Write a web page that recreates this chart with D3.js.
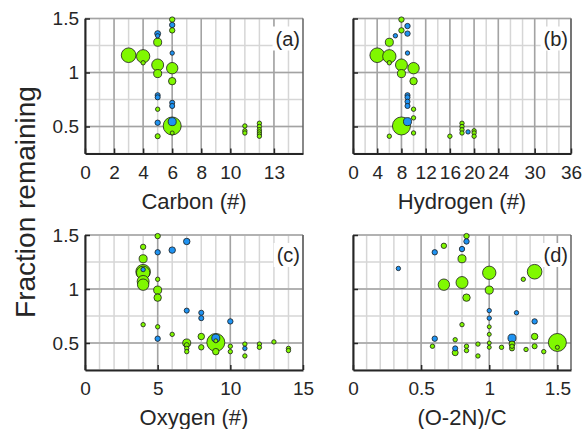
<!DOCTYPE html>
<html>
<head>
<meta charset="utf-8">
<script src="https://cdnjs.cloudflare.com/ajax/libs/d3/7.8.5/d3.min.js"></script>
<style>
  body { margin: 0; background: #fff; }
  text { font-family: "Liberation Sans", Arial, sans-serif; fill: #262626; }
</style>
</head>
<body>
<script>
// each point: [x value, fraction remaining, abundance, class]
const carbonPts = [
  [6, 1.49, 9, 'CHO'], [6, 1.44, 9, 'CHON'], [6, 1.39, 9, 'CHO'], [6, 1.18, 6, 'CHON'],
  [6, 1.04, 40, 'CHO'], [6, 0.92, 17, 'CHO'], [6, 0.72, 8, 'CHON'], [6, 0.69, 8, 'CHON'],
  [6, 0.505, 100, 'CHO'], [6, 0.545, 20, 'CHON'], [6, 0.44, 5, 'CHO'],
  [5, 1.36, 11, 'CHON'], [5, 1.34, 6, 'CHON'], [5, 1.28, 20, 'CHO'], [5, 1.07, 44, 'CHO'], [5, 0.99, 20, 'CHO'],
  [5, 0.79, 8, 'CHON'], [5, 0.77, 8, 'CHON'], [5, 0.66, 6, 'CHO'], [5, 0.535, 9, 'CHON'], [5, 0.41, 8, 'CHO'],
  [4, 1.15, 55, 'CHO'], [4, 1.09, 6, 'CHO'],
  [3, 1.16, 66, 'CHO'],
  [11, 0.505, 6, 'CHO'], [11, 0.46, 6, 'CHO'], [11, 0.44, 6, 'CHO'],
  [12, 0.53, 6, 'CHO'], [12, 0.50, 6, 'CHO'], [12, 0.47, 6, 'CHO'], [12, 0.45, 6, 'CHO'], [12, 0.43, 6, 'CHO'], [12, 0.41, 6, 'CHO']
]

const hydrogenPts = [
  [8, 1.49, 9, 'CHO'], [9, 1.43, 9, 'CHON'], [8, 1.39, 9, 'CHO'], [9, 1.36, 9, 'CHON'], [7, 1.34, 6, 'CHON'],
  [6, 1.28, 20, 'CHO'], [9, 1.18, 6, 'CHON'], [4, 1.16, 66, 'CHO'], [6, 1.15, 55, 'CHO'], [6, 1.09, 6, 'CHO'],
  [8, 1.07, 44, 'CHO'], [10, 1.04, 40, 'CHO'], [8, 0.99, 20, 'CHO'], [10, 0.92, 17, 'CHO'],
  [9, 0.79, 8, 'CHON'], [9, 0.77, 8, 'CHON'], [9, 0.73, 8, 'CHON'], [9, 0.69, 8, 'CHON'],
  [10, 0.66, 6, 'CHO'], [10, 0.58, 6, 'CHO'], [8, 0.505, 100, 'CHO'], [9, 0.545, 20, 'CHON'],
  [10, 0.44, 6, 'CHO'], [6, 0.41, 6, 'CHO'], [16, 0.41, 6, 'CHO'],
  [18, 0.53, 6, 'CHO'], [18, 0.50, 6, 'CHO'], [18, 0.47, 6, 'CHO'], [18, 0.44, 6, 'CHO'], [19, 0.45, 6, 'CHON'],
  [20, 0.46, 6, 'CHO'], [20, 0.44, 6, 'CHO'], [20, 0.41, 6, 'CHO']
]

const oxygenPts = [
  [5, 1.49, 9, 'CHO'], [7, 1.44, 13, 'CHON'], [4, 1.39, 9, 'CHO'], [6, 1.36, 13, 'CHON'], [5, 1.34, 9, 'CHON'],
  [4, 1.28, 20, 'CHO'], [4, 1.18, 6, 'CHON'], [4, 1.16, 66, 'CHO'], [4, 1.15, 55, 'CHO'], [5, 1.09, 6, 'CHO'],
  [4, 1.07, 44, 'CHO'], [4, 1.04, 40, 'CHO'], [5, 0.99, 20, 'CHO'], [5, 0.92, 17, 'CHO'],
  [7, 0.80, 8, 'CHON'], [8, 0.78, 8, 'CHON'], [8, 0.73, 8, 'CHON'], [10, 0.70, 9, 'CHON'],
  [4, 0.67, 6, 'CHO'], [5, 0.65, 6, 'CHO'], [6, 0.58, 6, 'CHO'], [5, 0.54, 9, 'CHON'],
  [7, 0.50, 20, 'CHO'], [7, 0.48, 8, 'CHO'], [7, 0.45, 6, 'CHO'], [7, 0.42, 6, 'CHO'],
  [8, 0.56, 13, 'CHO'], [8, 0.46, 9, 'CHO'],
  [9, 0.505, 100, 'CHO'], [9, 0.545, 20, 'CHON'], [9, 0.52, 5, 'CHO'], [9, 0.42, 13, 'CHO'],
  [10, 0.47, 6, 'CHO'], [10, 0.42, 6, 'CHO'],
  [11, 0.49, 6, 'CHO'], [11, 0.45, 6, 'CHON'], [11, 0.38, 6, 'CHO'],
  [12, 0.49, 6, 'CHO'], [12, 0.46, 6, 'CHO'], [13, 0.51, 6, 'CHO'], [14, 0.45, 6, 'CHO'], [14, 0.43, 6, 'CHO']
]

const ratioPts = [
  [0.833, 1.49, 9, 'CHO'], [0.833, 1.44, 9, 'CHON'], [0.667, 1.40, 9, 'CHO'], [0.8, 1.37, 9, 'CHON'], [0.6, 1.34, 9, 'CHON'],
  [0.8, 1.28, 20, 'CHO'], [0.333, 1.19, 6, 'CHON'], [1.333, 1.16, 66, 'CHO'], [1.0, 1.15, 55, 'CHO'], [1.25, 1.09, 6, 'CHO'],
  [0.8, 1.06, 44, 'CHO'], [0.667, 1.04, 40, 'CHO'], [1.0, 0.99, 20, 'CHO'], [0.833, 0.92, 17, 'CHO'],
  [1.0, 0.80, 6, 'CHON'], [1.2, 0.78, 6, 'CHON'], [1.0, 0.73, 6, 'CHON'], [1.333, 0.70, 9, 'CHON'],
  [0.8, 0.67, 6, 'CHO'], [1.0, 0.65, 5, 'CHO'], [1.0, 0.58, 5, 'CHO'], [0.6, 0.54, 9, 'CHON'],
  [0.583, 0.47, 6, 'CHO'], [0.75, 0.53, 6, 'CHO'], [0.75, 0.45, 8, 'CHON'], [0.75, 0.41, 11, 'CHO'],
  [0.833, 0.47, 6, 'CHO'], [0.833, 0.43, 6, 'CHO'], [0.917, 0.49, 6, 'CHO'], [0.917, 0.38, 6, 'CHO'],
  [1.0, 0.50, 5, 'CHO'], [1.0, 0.46, 5, 'CHO'], [1.09, 0.46, 6, 'CHO'],
  [1.167, 0.545, 20, 'CHON'], [1.167, 0.49, 11, 'CHO'], [1.167, 0.47, 6, 'CHO'], [1.167, 0.45, 8, 'CHO'],
  [1.27, 0.44, 6, 'CHO'], [1.333, 0.56, 13, 'CHO'], [1.333, 0.47, 8, 'CHO'], [1.4, 0.42, 6, 'CHO'],
  [1.5, 0.505, 100, 'CHO'], [1.5, 0.46, 5, 'CHO']
]

const carbonTicks = [0, 2, 4, 6, 8, 10, 13]
const hydrogenTicks = [0, 4, 8, 12, 16, 20, 24, 30, 36]
const oxygenTicks = [0, 5, 10, 15]
const ratioTicks = [0, 0.5, 1, 1.5]
const fractionTicks = [0.5, 1, 1.5]

const classColor = { CHO: '#80f800', CHON: '#1f93f2' }

const PANEL_W = 218
const PANEL_H = 135
const AXIS_COLOR = '#262626'

const radius = d3.scaleSqrt().domain([0, 100]).range([0, 9])

const y = d3.scaleLinear().domain([0.25, 1.5]).range([PANEL_H, 0])

const panels = [
  { pts: carbonPts, domain: [0, 15], ticks: carbonTicks, step: 1, title: 'Carbon (#)', tag: '(a)', left: 85, top: 18.5, yLabels: true },
  { pts: hydrogenPts, domain: [0, 36], ticks: hydrogenTicks, step: 2, title: 'Hydrogen (#)', tag: '(b)', left: 353, top: 18.5, yLabels: false },
  { pts: oxygenPts, domain: [0, 15], ticks: oxygenTicks, step: 1, title: 'Oxygen (#)', tag: '(c)', left: 85, top: 235, yLabels: true },
  { pts: ratioPts, domain: [0, 1.6], ticks: ratioTicks, step: 0.1, title: '(O-2N)/C', tag: '(d)', left: 353, top: 235, yLabels: false }
]

var svg = d3.select('body').append('svg')
  .attr('width', 582)
  .attr('height', 429)

svg.append('text')
  .attr('transform', 'translate(35, 202) rotate(-90)')
  .attr('text-anchor', 'middle')
  .style('font-size', '28px')
  .text('Fraction remaining')

panels.forEach(function (p) {
  var x = d3.scaleLinear().domain(p.domain).range([0, PANEL_W])
  var g = svg.append('g').attr('transform', `translate(${p.left}, ${p.top})`)

  // minor grid
  var nx = Math.round((p.domain[1] - p.domain[0]) / p.step)
  var minorX = d3.range(nx + 1).map(i => p.domain[0] + i * p.step)
  var minorY = d3.range(0.25, 1.51, 0.25)

  g.selectAll('.minx').data(minorX).enter().append('line')
    .attr('x1', d => x(d)).attr('x2', d => x(d))
    .attr('y1', 0).attr('y2', PANEL_H)
    .style('stroke', '#d6d6d6').style('stroke-width', 1.5)
  g.selectAll('.miny').data(minorY).enter().append('line')
    .attr('x1', 0).attr('x2', PANEL_W)
    .attr('y1', d => y(d)).attr('y2', d => y(d))
    .style('stroke', '#d6d6d6').style('stroke-width', 1.5)

  // major grid
  g.selectAll('.majx').data(p.ticks).enter().append('line')
    .attr('x1', d => x(d)).attr('x2', d => x(d))
    .attr('y1', 0).attr('y2', PANEL_H)
    .style('stroke', '#a3a3a3').style('stroke-width', 1.5)
  g.selectAll('.majy').data(fractionTicks).enter().append('line')
    .attr('x1', 0).attr('x2', PANEL_W)
    .attr('y1', d => y(d)).attr('y2', d => y(d))
    .style('stroke', '#a3a3a3').style('stroke-width', 1.5)

  // right edge
  g.append('line')
    .attr('x1', PANEL_W).attr('x2', PANEL_W)
    .attr('y1', 0).attr('y2', PANEL_H)
    .style('stroke', '#4d4d4d').style('stroke-width', 1.2)

  // bubbles, biggest first so small ones stay on top
  var pts = p.pts.slice().sort((a, b) => b[2] - a[2])
  g.selectAll('circle').data(pts).enter().append('circle')
    .attr('cx', d => x(d[0]))
    .attr('cy', d => y(d[1]))
    .attr('r', d => radius(d[2]))
    .style('fill', d => classColor[d[3]])
    .style('stroke', '#1a1a1a')
    .style('stroke-width', 0.8)

  // axes
  var xAxis = d3.axisBottom(x)
    .tickValues(p.ticks)
    .tickFormat(d3.format('~g'))
    .tickSizeInner(-5).tickSizeOuter(0).tickPadding(12)
  var gx = g.append('g').attr('transform', `translate(0, ${PANEL_H})`).call(xAxis)
  gx.selectAll('text').style('font-size', '19px').style('fill', AXIS_COLOR)

  var yAxis = d3.axisLeft(y)
    .tickValues(fractionTicks)
    .tickFormat(p.yLabels ? d3.format('~g') : '')
    .tickSizeInner(-5).tickSizeOuter(0).tickPadding(6)
  var gy = g.append('g').call(yAxis)
  gy.selectAll('text').style('font-size', '19px').style('fill', AXIS_COLOR)

  g.selectAll('.domain').style('stroke', AXIS_COLOR).style('stroke-width', 2)
  g.selectAll('.tick line').style('stroke', AXIS_COLOR).style('stroke-width', 1.5)

  g.append('text')
    .attr('x', PANEL_W / 2)
    .attr('y', PANEL_H + 55)
    .attr('text-anchor', 'middle')
    .style('font-size', '22px')
    .text(p.title)

  // panel tag on white box
  var tag = g.append('text')
    .attr('x', PANEL_W - 3)
    .attr('y', 27)
    .attr('text-anchor', 'end')
    .style('font-size', '20px')
    .text(p.tag)
  var bb = tag.node().getBBox()
  g.insert('rect', function () { return tag.node() })
    .attr('x', bb.x - 3)
    .attr('y', bb.y - 1)
    .attr('width', PANEL_W - 1 - (bb.x - 3))
    .attr('height', bb.height + 2)
    .style('fill', '#fff')
})
</script>
</body>
</html>
